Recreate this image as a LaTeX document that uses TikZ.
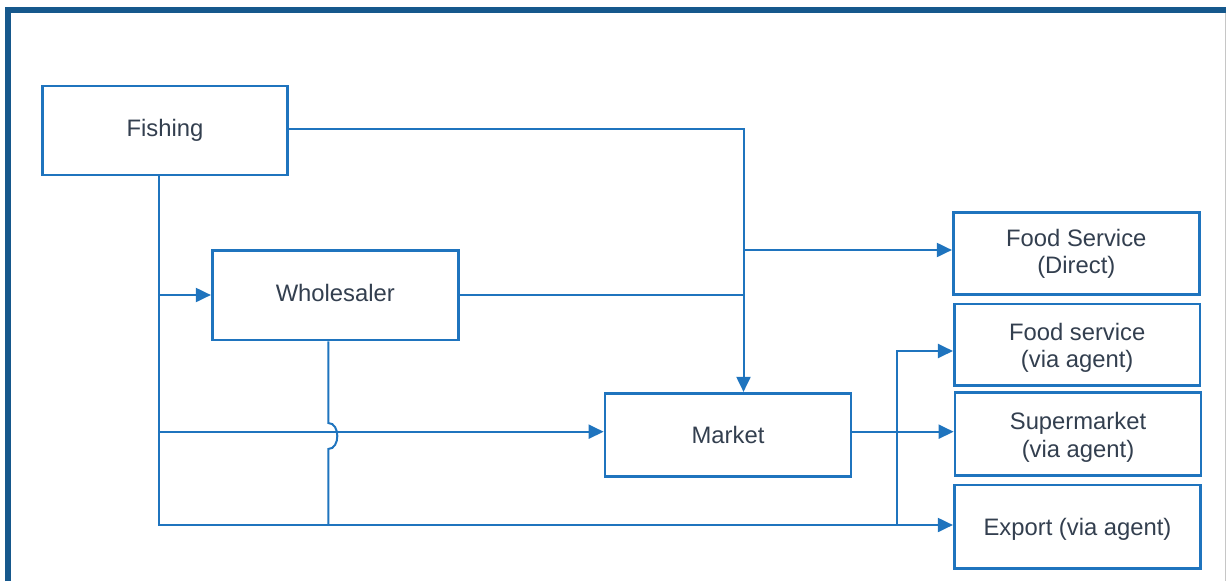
\documentclass[tikz,border=0pt]{standalone}
\usepackage{fontspec}
\setmainfont{Liberation Sans}
\usetikzlibrary{arrows.meta}
\definecolor{lineblue}{RGB}{31,116,190}
\definecolor{frameblue}{RGB}{22,88,140}
\definecolor{txt}{RGB}{51,63,79}
\begin{document}
\begin{tikzpicture}[x=1pt,y=-1pt,
  box/.style={draw=lineblue, line width=2.8pt, fill=white, inner sep=0pt, text=txt,
    font=\fontsize{23.8}{27.6}\selectfont, align=center, text height=17.6pt, text depth=5pt},
  twoline/.style={text height=45.2pt, text depth=5pt},
  conn/.style={draw=lineblue, line width=2pt},
  arr/.style={conn, -{Triangle[length=15pt,width=14pt]}}]
\useasboundingbox (0,0) rectangle (1226,581);
% frame
\draw[frameblue, line width=5.4pt, line join=miter] (7.9,581) -- (7.9,10) -- (1226,10);
\draw[gray!45, line width=1pt] (1225.3,12.7) -- (1225.3,581);
% nodes
\node[box, minimum width=245.5pt, minimum height=89pt] (fish) at (165,130.5) {Fishing};
\node[box, minimum width=246pt, minimum height=89.3pt] (whole) at (335.3,295.3) {Wholesaler};
\node[box, text height=21.6pt, minimum width=246pt, minimum height=83.4pt] (mkt) at (728,435) {Market};
\node[box, twoline, minimum width=246pt, minimum height=82.4pt] (fsd) at (1076.3,253.5) {Food Service\\(Direct)};
\node[box, twoline, text height=51.2pt, minimum width=245.7pt, minimum height=81.7pt] (fsa) at (1077.2,344.8) {Food service\\(via agent)};
\node[box, twoline, text height=51.2pt, minimum width=246pt, minimum height=83pt] (sup) at (1078,434.2) {Supermarket\\(via agent)};
\node[box, text height=21.6pt, minimum width=246.4pt, minimum height=83.7pt] (exp) at (1077.5,526.8) {Export (via agent)};
% routing coordinates
\coordinate (vA) at (159.3,0);
\coordinate (vB) at (328.3,0);
\coordinate (vC) at (743.5,0);
\coordinate (vD) at (897.3,0);
\coordinate (yT) at (0,129);
\coordinate (yFSD) at (0,250);
\coordinate (yW) at (0,295);
\coordinate (yF) at (0,351);
\coordinate (yM) at (0,431.7);
\coordinate (yX) at (0,525);
\coordinate (hopA) at (328.3,423);
\coordinate (hopB) at (328.3,449);
% connectors
\draw[arr] (fish.east |- yT) -- (vC |- yT) -- (vC |- mkt.north);
\draw[arr] (vC |- yFSD) -- (fsd.west |- yFSD);
\draw[conn] (whole.east |- yW) -- (vC |- yW);
\draw[arr] (vA |- fish.south) -- (vA |- yX) -- (exp.west |- yX);
\draw[arr] (vA |- yW) -- (whole.west |- yW);
\draw[arr] (vA |- yM) -- (mkt.west |- yM);
\draw[conn] (vB |- whole.south) -- (hopA) .. controls ([xshift=12pt]hopA) and ([xshift=12pt]hopB) .. (hopB) -- (vB |- yX);
\draw[arr] (mkt.east |- yM) -- (sup.west |- yM);
\draw[arr] (vD |- yX) -- (vD |- yF) -- (fsa.west |- yF);
\end{tikzpicture}
\end{document}
